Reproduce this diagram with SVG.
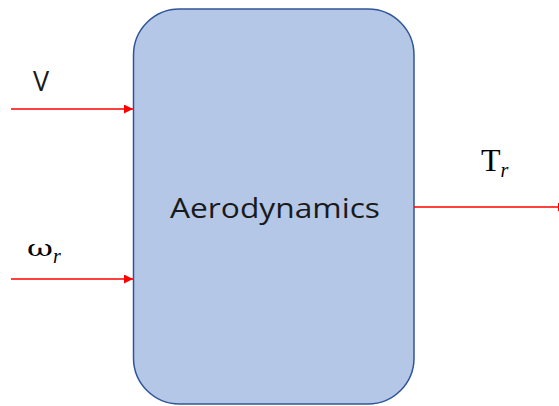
<svg xmlns="http://www.w3.org/2000/svg" width="559" height="406" viewBox="0 0 559 406">
<style>
.conn{stroke:#FF0000;stroke-width:1.5;fill:none}
.lbl{font-family:"Open Sans","Liberation Sans",Arial,sans-serif;fill:#1a1a1a}
.math{font-family:"Liberation Serif","Times New Roman",serif;fill:#000}
</style>
<defs>
<marker id="ah" viewBox="0 0 10 10" refX="10" refY="5" markerWidth="9" markerHeight="9" markerUnits="userSpaceOnUse" orient="auto">
<path d="M0,0 L10,5 L0,10 z" fill="#FF0000"/>
</marker>
</defs>
<rect width="559" height="406" fill="#fff"/>
<g id="aero">
<rect x="133.5" y="9" width="280.5" height="395" rx="46" ry="46" fill="#B4C7E7" stroke="#2F5597" stroke-width="1.5"/>
<text class="lbl" x="170" y="218" font-size="28" textLength="210" lengthAdjust="spacingAndGlyphs">Aerodynamics</text>
</g>
<g id="connectors">
<line class="conn" x1="11" y1="109" x2="133" y2="109" marker-end="url(#ah)"/>
<line class="conn" x1="11" y1="279" x2="133" y2="279" marker-end="url(#ah)"/>
<line class="conn" x1="414" y1="207" x2="567" y2="207" marker-end="url(#ah)"/>
</g>
<g id="labels">
<text class="lbl" x="33" y="91" font-size="27">V</text>
<text class="math" x="27" y="256" font-size="25"><tspan font-family="'DejaVu Serif',serif" font-size="22" textLength="26" lengthAdjust="spacingAndGlyphs">ω</tspan><tspan font-style="italic" font-size="20" dy="7">r</tspan></text>
<text class="math" x="481" y="171" font-size="32">T<tspan font-style="italic" font-size="20" dy="6">r</tspan></text>
</g>
</svg>
